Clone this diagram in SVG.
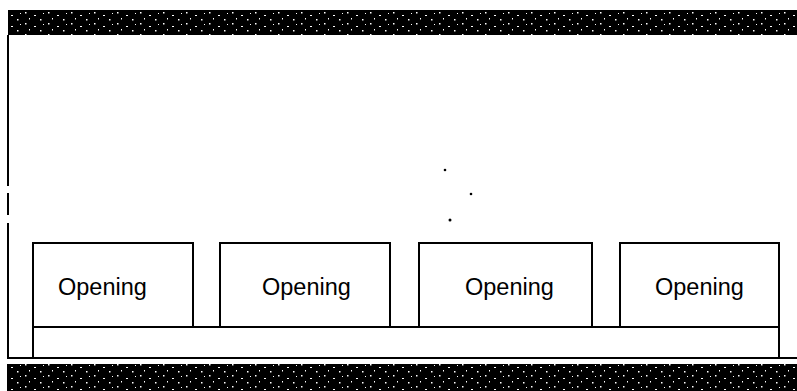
<svg xmlns="http://www.w3.org/2000/svg" width="797" height="391" viewBox="0 0 797 391">
  <style>
    .box { fill: #ffffff; stroke: #000000; stroke-width: 2; }
    .line { fill: none; stroke: #000000; stroke-width: 2; }
    .label { font-family: "Liberation Sans", Arial, sans-serif; font-size: 23.5px; fill: #000000; }
    .dot { fill: #000000; }
  </style>
  <defs>
    <pattern id="noise" x="0" y="0" width="23" height="11" patternUnits="userSpaceOnUse">
      <rect width="23" height="11" fill="#000000"/>
      <rect x="2" y="1" width="1.5" height="1.5" fill="#ffffff"/>
      <rect x="11" y="4" width="2" height="1" fill="#ffffff"/>
      <rect x="17" y="8" width="1.5" height="1.5" fill="#ffffff"/>
      <rect x="6" y="7" width="1" height="1.5" fill="#ffffff"/>
      <rect x="20" y="2" width="1" height="1" fill="#ffffff"/>
    </pattern>
  </defs>
  <rect width="797" height="391" fill="#ffffff"/>

  <!-- dark bands -->
  <rect id="top-band" x="8" y="10" width="789" height="25" fill="url(#noise)"/>
  <rect id="bottom-band" x="7" y="364" width="790" height="27" fill="url(#noise)"/>

  <g id="connectors">
    <!-- left frame line (dashed near bottom) -->
    <line class="line" x1="8" y1="35" x2="8" y2="186"/>
    <line class="line" x1="8" y1="193" x2="8" y2="215"/>
    <line class="line" x1="8" y1="223" x2="8" y2="358"/>
    <!-- base line -->
    <line class="line" x1="7" y1="358" x2="797" y2="358"/>
  </g>

  <g id="strip">
    <rect class="box" x="33" y="327" width="746" height="31"/>
  </g>

  <g id="opening-1">
    <rect class="box" x="33" y="243" width="160" height="84"/>
    <text class="label" x="58" y="295">Opening</text>
  </g>
  <g id="opening-2">
    <rect class="box" x="220" y="243" width="170" height="84"/>
    <text class="label" x="262" y="295">Opening</text>
  </g>
  <g id="opening-3">
    <rect class="box" x="419" y="243" width="173" height="84"/>
    <text class="label" x="465" y="295">Opening</text>
  </g>
  <g id="opening-4">
    <rect class="box" x="620" y="243" width="159" height="84"/>
    <text class="label" x="655" y="295">Opening</text>
  </g>

  <g id="dots">
    <circle class="dot" cx="445" cy="170" r="1.3"/>
    <circle class="dot" cx="471" cy="194" r="1.3"/>
    <circle class="dot" cx="450" cy="220" r="1.5"/>
  </g>
</svg>
